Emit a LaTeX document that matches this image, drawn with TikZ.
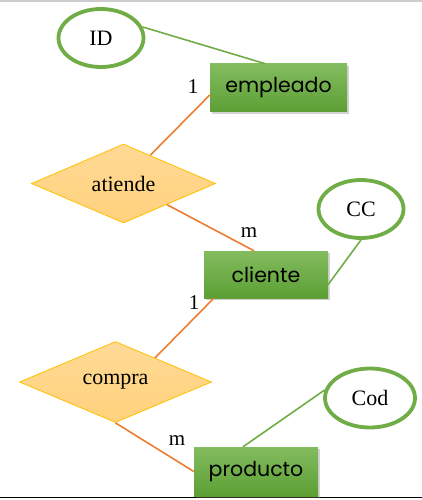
\documentclass[tikz,border=0pt]{standalone}
\usepackage{fontspec}
\setmainfont{Liberation Serif}
\newfontfamily\boxfont{Poppins}
\usetikzlibrary{shapes.geometric,shadows,calc}
\definecolor{attrgreen}{HTML}{70AD47}
\definecolor{boxtop}{HTML}{83BC5F}
\definecolor{boxbot}{HTML}{5C9F34}
\definecolor{relorange}{HTML}{ED7D31}
\definecolor{diatop}{HTML}{FFDA95}
\definecolor{diabot}{HTML}{FFD17C}
\definecolor{diaborder}{HTML}{FFC000}
\tikzset{
  entity/.style={rectangle, top color=boxtop, bottom color=boxbot, draw=none,
    inner sep=0pt, font=\boxfont\fontsize{20.5}{20.5}\selectfont,
    drop shadow={shadow xshift=1.5pt, shadow yshift=-2pt, opacity=0.35}},
  attrib/.style={ellipse, draw=attrgreen, line width=3.8pt, fill=white, inner sep=0pt,
    font=\fontsize{22}{22}\selectfont},
  relation/.style={diamond, top color=diatop, bottom color=diabot, draw=diaborder,
    line width=0.8pt, inner sep=0pt, font=\fontsize{22}{22}\selectfont},
  orangeline/.style={draw=relorange, line width=1.6pt},
  greenline/.style={draw=attrgreen, line width=1.6pt},
  card/.style={inner sep=0pt, font=\fontsize{21}{21}\selectfont}
}
\begin{document}
\begin{tikzpicture}[x=1pt,y=-1pt]
\useasboundingbox (0,0) rectangle (422,500);
\coordinate (tl) at (0,1);
\coordinate (tr) at (422,1);
\coordinate (bl) at (0,497.5);
\coordinate (br) at (422,497.5);
\draw[line width=1.5pt, gray!40] (tl) -- (tr);
\draw[line width=1.5pt, black] (bl) -- (br);

\node[entity, minimum width=137, minimum height=48] (empleado) at (278.5,88) {empleado};
\node[entity, minimum width=124, minimum height=47] (cliente) at (266,274.5) {cliente};
\node[entity, minimum width=124, minimum height=49] (producto) at (256,471.5) {producto};

\node[relation, minimum width=184, minimum height=75] (atiende) at (123.5,183.5) {atiende};
\node[relation, minimum width=192, minimum height=74] (compra) at (115.5,382) {\raisebox{-2.5pt}{compra}};

\draw[orangeline] ($(empleado.west)+(0,7)$) -- ($(atiende.north)!0.29!(atiende.east)$);
\draw[orangeline] ($(atiende.south)!0.47!(atiende.east)$) -- ($(cliente.north)+(-12,0)$);
\draw[orangeline] ($(cliente.south west)+(10,0)$) -- ($(compra.north)!0.41!(compra.east)$);
\draw[orangeline] (compra.south) -- (producto.west);

\node[attrib, minimum width=85, minimum height=58] (ID) at (101,38) {ID};
\node[attrib, minimum width=85, minimum height=58] (CC) at (361,209) {CC};
\node[attrib, minimum width=90, minimum height=59] (Cod) at (370,398) {Cod};

\draw[greenline] (ID.15) -- ($(empleado.north)+(-13,0)$);
\draw[greenline] (CC.south) -- ($(cliente.east)+(0,10)$);
\draw[greenline] (Cod.170) -- ($(producto.north)+(-13,0)$);

\node[card] (c1) at (193,87) {1};
\node[card] (c2) at (249,233) {m};
\node[card] (c3) at (194,303) {1};
\node[card] (c4) at (177,441) {m};
\end{tikzpicture}
\end{document}
